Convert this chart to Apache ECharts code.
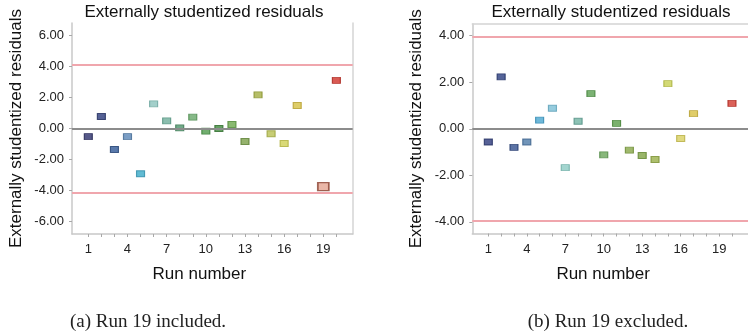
<!DOCTYPE html>
<html>
<head>
<meta charset="utf-8">
<script src="https://cdn.jsdelivr.net/npm/echarts@6/dist/echarts.min.js"></script>
<style>
  html, body { margin: 0; padding: 0; background: #fff; }
  #chart { width: 748px; height: 335px; }
</style>
</head>
<body>
<div id="chart"></div>
<script>
// Residual diagnostics, two fits: (a) with run 19, (b) without it.
const runsA = [1, 2, 3, 4, 5, 6, 7, 8, 9, 10, 11, 12, 13, 14, 15, 16, 17, 19, 20];
const residA = [-0.52, 0.77, -1.35, -0.52, -2.92, 1.59, 0.49, 0.04, 0.73, -0.17, 0.00, 0.26, -0.84, 2.17, -0.34, -0.97, 1.48, -3.74, 3.10];
const limitA = 4.14;

const runsB = [1, 2, 3, 4, 5, 6, 7, 8, 9, 10, 11, 12, 13, 14, 15, 16, 17, 20];
const residB = [-0.57, 2.23, -0.80, -0.57, 0.37, 0.88, -1.67, 0.32, 1.51, -1.12, 0.23, -0.92, -1.15, -1.32, 1.94, -0.42, 0.65, 1.09];
const limitB = 3.96;

const xLabelValues = [1, 4, 7, 10, 13, 16, 19];
const xTickValues = [1, 2, 3, 4, 5, 6, 7, 8, 9, 10, 11, 12, 13, 14, 15, 16, 17, 18, 19, 20];
const yLabelsA = [-6, -4, -2, 0, 2, 4, 6];
const yLabelsB = [-4, -2, 0, 2, 4];

const titleText = 'Externally studentized residuals';
const yName = 'Externally studentized residuals';
const xName = 'Run number';
const captions = ['(a) Run 19 included.', '(b) Run 19 excluded.'];

// point colours run from navy (early runs) to red (late runs)
const fillA = ['#2c2f6c', '#2b3a7b', '#2f5896', '#5a86b6', '#3aaac8', '#8cc3bd', '#6fae9b', '#4f936b', '#68a86a', '#4f9a4b', '#3f883c', '#6ba84c', '#7a9f48', '#a4ae42', '#b9c052', '#cfcf55', '#d6c043', '#e5a592', '#cf3128'];
const edgeA = ['#1e2150', '#1e2a5c', '#1f3f70', '#3f6590', '#2a8aa6', '#6aa49c', '#4f8e7b', '#36744f', '#4a884c', '#367a34', '#2a6a28', '#4e8834', '#5a7e32', '#84902c', '#98a03a', '#aeae3a', '#b49e2c', '#8a4030', '#a82018'];
const fillB = ['#2d3a7c', '#2a3d80', '#33508e', '#4f7aa8', '#4aa6d0', '#7cbfd6', '#8ccac3', '#70b3a2', '#5a9f50', '#6aa55a', '#5a9d48', '#88a848', '#80a344', '#98af48', '#c8cf52', '#d8d060', '#d8c043', '#d23a30'];
const edgeB = ['#1e2a5e', '#1c2c62', '#22386c', '#375c88', '#2e86ae', '#5a9fb6', '#6aaaa2', '#508f82', '#3e7e36', '#4c8640', '#3e7e30', '#688830', '#60842e', '#788e30', '#a6ae36', '#b6ae40', '#b49e2c', '#a82018'];

function points(runs, vals, fills, edges, bigIndex) {
  return runs.map((r, i) => {
    const item = {
      value: [r, vals[i]],
      itemStyle: { color: fills[i], borderColor: edges[i], borderWidth: 1 }
    };
    if (i === bigIndex) {
      item.symbolSize = [11, 8];
      item.itemStyle.borderWidth = 1.5;
    }
    return item;
  });
}

function refLines(limit) {
  return {
    silent: true,
    symbol: 'none',
    label: { show: false },
    data: [
      { yAxis: 0, lineStyle: { color: '#8c8c8c', width: 2, type: 'solid' } },
      { yAxis: limit, lineStyle: { color: '#f0a6ad', width: 2, type: 'solid' } },
      { yAxis: -limit, lineStyle: { color: '#f0a6ad', width: 2, type: 'solid' } }
    ]
  };
}

const axisGray = '#c8c8c8';
const fmt = v => Number(v).toFixed(2);

function runAxis(gridIndex) {
  return {
    gridIndex: gridIndex,
    type: 'value',
    min: -0.25,
    max: 21.25,
    axisLine: { show: true, onZero: false, lineStyle: { color: axisGray, width: 1.5 } },
    axisTick: { show: true, customValues: xTickValues, length: 3, lineStyle: { color: '#a8a8a8' } },
    axisLabel: { customValues: xLabelValues, color: '#222', fontSize: 13, margin: 9, fontFamily: 'Liberation Sans' },
    splitLine: { show: false },
    name: xName,
    nameLocation: 'middle',
    nameGap: 32,
    nameTextStyle: { fontSize: 17, color: '#111', fontFamily: 'Liberation Sans', padding: gridIndex === 0 ? [0, 26, 0, 0] : [0, 14, 0, 0] }
  };
}

function residAxis(gridIndex, min, max, labels) {
  return {
    gridIndex: gridIndex,
    type: 'value',
    min: min,
    max: max,
    axisLine: { show: true, onZero: false, lineStyle: { color: axisGray, width: 1.5 } },
    axisTick: { show: true, customValues: labels, length: 3, lineStyle: { color: '#a8a8a8' } },
    axisLabel: { customValues: labels, formatter: fmt, color: '#222', fontSize: 13, margin: 8, fontFamily: 'Liberation Sans' },
    splitLine: { show: false },
    name: yName,
    nameLocation: 'middle',
    nameGap: 47,
    nameTextStyle: { fontSize: 17, color: '#111', fontFamily: 'Liberation Sans' }
  };
}

// plain frame line along one side of a plot
function borderAxis(gridIndex, min, max, position) {
  return {
    gridIndex: gridIndex,
    type: 'value',
    min: min,
    max: max,
    position: position,
    axisLine: { show: true, onZero: false, lineStyle: { color: '#d4d4d4', width: 1.5 } },
    axisTick: { show: false },
    axisLabel: { show: false },
    splitLine: { show: false }
  };
}

const chart = echarts.init(document.getElementById('chart'), null, { renderer: 'canvas' });

chart.setOption({
  animation: false,
  backgroundColor: '#ffffff',
  grid: [
    { left: 72, top: 23, width: 280.7, height: 211 },
    { left: 472.3, top: 24, width: 280.2, height: 209.5 }
  ],
  xAxis: [
    runAxis(0),
    runAxis(1),
    borderAxis(1, -0.25, 21.25, 'top')
  ],
  yAxis: [
    residAxis(0, -6.8, 6.8, yLabelsA),
    residAxis(1, -4.5, 4.5, yLabelsB),
    borderAxis(0, -6.8, 6.8, 'right')
  ],
  graphic: [
    { type: 'text', x: 204, y: 12, style: { text: titleText, fill: '#111', font: '17px "Liberation Sans"', align: 'center', verticalAlign: 'middle' } },
    { type: 'text', x: 611, y: 12, style: { text: titleText, fill: '#111', font: '17px "Liberation Sans"', align: 'center', verticalAlign: 'middle' } },
    { type: 'text', x: 148, y: 322, style: { text: captions[0], fill: '#222', font: '19px "Liberation Serif"', align: 'center', verticalAlign: 'middle' } },
    { type: 'text', x: 608, y: 322, style: { text: captions[1], fill: '#222', font: '19px "Liberation Serif"', align: 'center', verticalAlign: 'middle' } }
  ],
  series: [
    {
      type: 'scatter',
      xAxisIndex: 0,
      yAxisIndex: 0,
      symbol: 'rect',
      symbolSize: [8, 6],
      data: points(runsA, residA, fillA, edgeA, runsA.indexOf(19)),
      markLine: refLines(limitA),
      z: 3
    },
    {
      type: 'scatter',
      xAxisIndex: 1,
      yAxisIndex: 1,
      symbol: 'rect',
      symbolSize: [8, 6],
      data: points(runsB, residB, fillB, edgeB, -1),
      markLine: refLines(limitB),
      z: 3
    }
  ]
});
</script>
</body>
</html>
